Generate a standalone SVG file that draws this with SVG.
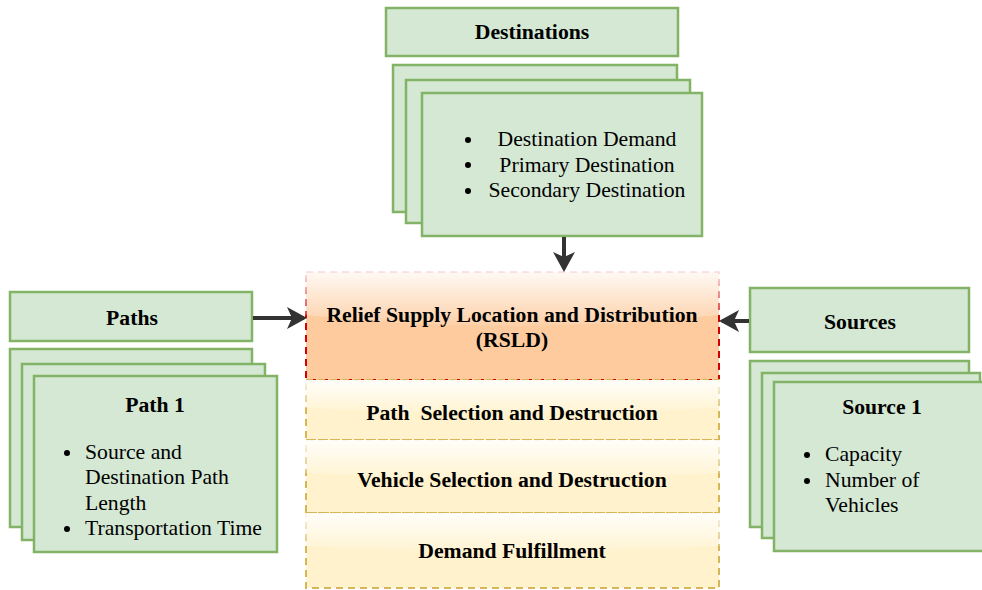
<svg xmlns="http://www.w3.org/2000/svg" width="982" height="590" viewBox="0 0 982 590">
  <style>
    .card { fill: #D5E8D4; stroke: #82B366; stroke-width: 2.5; }
    .t { font-family: "Liberation Serif", "Times New Roman", serif; font-size: 21.7px; fill: #000; }
    .b { font-weight: bold; }
    .mid { text-anchor: middle; }
    .dot { fill: #000; }
    .edge { stroke: #333333; stroke-width: 4; fill: none; }
    .glass { fill: url(#glassGrad); }
  </style>
  <defs>
    <linearGradient id="glassGrad" x1="0" y1="0" x2="0" y2="1">
      <stop offset="0" stop-color="#FFFFFF" stop-opacity="0.9"/>
      <stop offset="1" stop-color="#FFFFFF" stop-opacity="0.1"/>
    </linearGradient>
    <marker id="arrow" markerUnits="userSpaceOnUse" markerWidth="20" markerHeight="22" refX="17" refY="11" orient="auto" viewBox="0 0 20 22">
      <path d="M0,0 L20,11 L0,22 L5,11 Z" fill="#333333"/>
    </marker>
  </defs>

  <!-- Central process: RSLD and its stages -->
  <g id="rsld">
    <rect x="306" y="272" width="413" height="108" fill="#FDCB9E" stroke="#D40000" stroke-width="2" stroke-dasharray="7,5"/>
    <path class="glass" d="M305,271 H720 V315 Q512,337 305,315 Z"/>
    <text class="t b mid" x="512" y="322">Relief Supply Location and Distribution</text>
    <text class="t b mid" x="512" y="347">(RSLD)</text>
  </g>
  <g id="path-selection">
    <rect x="306" y="380" width="413" height="60" fill="#FFF2CC" stroke="#D6B656" stroke-width="2" stroke-dasharray="7,5"/>
    <path class="glass" d="M305,380 H720 V408 Q512,418 305,408 Z"/>
    <text class="t b mid" x="512" y="420" xml:space="preserve">Path  Selection and Destruction</text>
  </g>
  <g id="vehicle-selection">
    <rect x="306" y="440" width="413" height="73" fill="#FFF2CC" stroke="#D6B656" stroke-width="2" stroke-dasharray="7,5"/>
    <path class="glass" d="M305,440 H720 V473 Q512,485 305,473 Z"/>
    <text class="t b mid" x="512" y="487">Vehicle Selection and Destruction</text>
  </g>
  <g id="demand-fulfillment">
    <rect x="306" y="513" width="413" height="75" fill="#FFF2CC" stroke="#D6B656" stroke-width="2" stroke-dasharray="7,5"/>
    <path class="glass" d="M305,513 H720 V546 Q512,558 305,546 Z"/>
    <text class="t b mid" x="512" y="558">Demand Fulfillment</text>
  </g>

  <!-- Destinations -->
  <g id="destinations">
    <rect class="card" x="386" y="8" width="292" height="48"/>
    <text class="t b mid" x="532" y="39">Destinations</text>
  </g>
  <g id="destination-cards">
    <rect class="card" x="393" y="65" width="284" height="147"/>
    <rect class="card" x="406" y="80" width="284" height="143"/>
    <rect class="card" x="422" y="93" width="280" height="143"/>
    <circle class="dot" cx="468" cy="140" r="3"/>
    <circle class="dot" cx="468" cy="165" r="3"/>
    <circle class="dot" cx="468" cy="191" r="3"/>
    <text class="t mid" x="587" y="146">Destination Demand</text>
    <text class="t mid" x="587" y="172">Primary Destination</text>
    <text class="t mid" x="587" y="197">Secondary Destination</text>
  </g>

  <!-- Paths -->
  <g id="paths">
    <rect class="card" x="10" y="292" width="242" height="49"/>
    <text class="t b mid" x="132" y="325">Paths</text>
  </g>
  <g id="path-cards">
    <rect class="card" x="10" y="349" width="242" height="178"/>
    <rect class="card" x="22" y="364" width="243" height="176"/>
    <rect class="card" x="34" y="376" width="243" height="176"/>
    <text class="t b mid" x="155" y="412">Path 1</text>
    <circle class="dot" cx="67" cy="453" r="3"/>
    <circle class="dot" cx="67" cy="529" r="3"/>
    <text class="t" x="85" y="459">Source and</text>
    <text class="t" x="85" y="484">Destination Path</text>
    <text class="t" x="85" y="510">Length</text>
    <text class="t" x="85" y="535">Transportation Time</text>
  </g>

  <!-- Sources -->
  <g id="sources">
    <rect class="card" x="750" y="288" width="219" height="64"/>
    <text class="t b mid" x="860" y="329">Sources</text>
  </g>
  <g id="source-cards">
    <rect class="card" x="750" y="361" width="219" height="166"/>
    <rect class="card" x="762" y="373" width="218" height="165"/>
    <rect class="card" x="774" y="382" width="212" height="169"/>
    <text class="t b mid" x="882" y="414">Source 1</text>
    <circle class="dot" cx="807" cy="455" r="3"/>
    <circle class="dot" cx="807" cy="481" r="3"/>
    <text class="t" x="825" y="461">Capacity</text>
    <text class="t" x="825" y="487">Number of</text>
    <text class="t" x="825" y="512">Vehicles</text>
  </g>

  <!-- Connectors -->
  <g id="connectors">
    <line class="edge" x1="564" y1="237" x2="564" y2="269" marker-end="url(#arrow)"/>
    <line class="edge" x1="253" y1="318" x2="304" y2="318" marker-end="url(#arrow)"/>
    <line class="edge" x1="749" y1="321" x2="722" y2="321" marker-end="url(#arrow)"/>
  </g>
</svg>
